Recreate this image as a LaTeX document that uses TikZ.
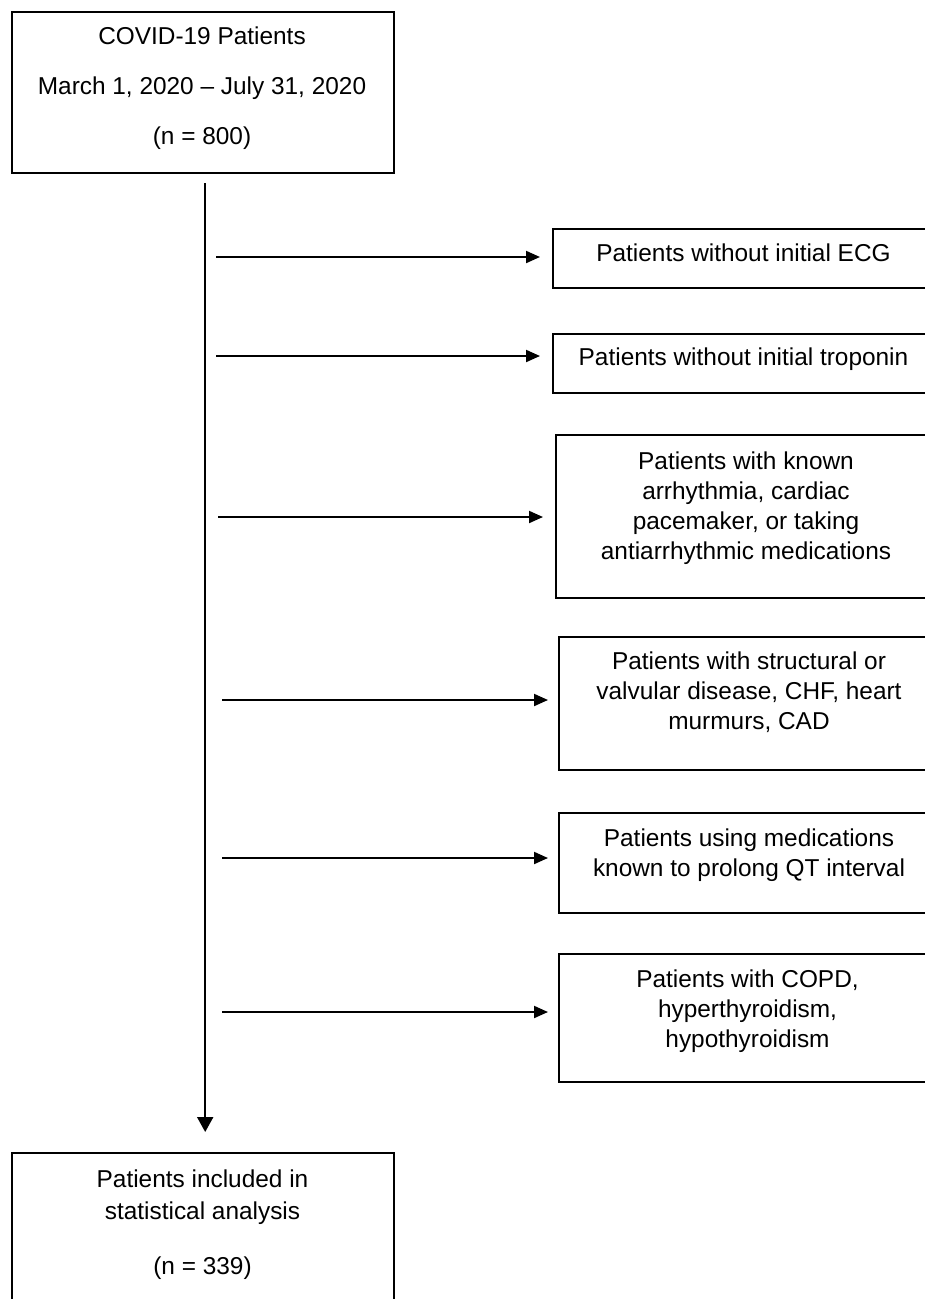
\documentclass[tikz,border=0pt]{standalone}
\usepackage{fontspec}
\setmainfont{Liberation Sans}
\usetikzlibrary{arrows.meta}
\begin{document}
\begin{tikzpicture}[x=1pt,y=-1pt,
  box/.style={draw, line width=2.4pt, anchor=north west, inner sep=0pt, minimum width=383pt},
  txt/.style={align=center, inner sep=0pt},
  fs/.style={font=\fontsize{24.4}{30}\selectfont},
  arr/.style={line width=2pt, -{Triangle[length=14pt,width=12pt]}}]
\useasboundingbox (0,0) rectangle (925,1299);
\fill[white] (0,0) rectangle (925,1299);
\clip (0,0) rectangle (925,1299);

% top and bottom boxes
\node[box, minimum width=382pt, minimum height=161pt] (top) at (11,11) {};
\node[txt, font=\fontsize{24.4}{50}\selectfont] (toptxt) at (202,84) {\strut COVID-19 Patients\\March 1, 2020 -- July 31, 2020\\(n = 800)\strut};
\node[box, minimum width=382pt, minimum height=170pt] (bot) at (11,1152) {};
\node[txt, font=\fontsize{24.4}{32}\selectfont] (bottxt) at (202.5,1225) {\strut Patients included in\\statistical analysis\\[23pt](n = 339)\strut};

% right boxes
\node[box, minimum height=59pt] (b1) at (552,228) {};
\node[txt, fs] (t1) at (743.5,255) {\strut Patients without initial ECG};
\node[box, minimum height=59pt] (b2) at (552,333) {};
\node[txt, fs] (t2) at (743.5,359) {\strut Patients without initial troponin};
\node[box, minimum height=163pt] (b3) at (555,434) {};
\node[txt, fs] (t3) at (746,508) {\strut Patients with known\\arrhythmia, cardiac\\pacemaker, or taking\\antiarrhythmic medications\strut};
\node[box, minimum height=133pt] (b4) at (558,636) {};
\node[txt, fs] (t4) at (749,693) {\strut Patients with structural or\\valvular disease, CHF, heart\\murmurs, CAD\strut};
\node[box, minimum height=100pt] (b5) at (558,812) {};
\node[txt, fs] (t5) at (749,855) {\strut Patients using medications\\known to prolong QT interval\strut};
\node[box, minimum height=128pt] (b6) at (558,953) {};
\node[txt, fs] (t6) at (747.5,1011) {\strut Patients with COPD,\\hyperthyroidism,\\hypothyroidism\strut};

% main vertical arrow
\draw[arr, -{Triangle[length=15pt,width=16pt]}, shorten <=9pt, shorten >=20pt]
  ([xshift=2pt]top.south) -- ([xshift=2pt]bot.north);

% exclusion arrows
\coordinate (s1) at (216,257);
\coordinate (s2) at (216,356);
\coordinate (s3) at (218,517);
\coordinate (s4) at (222,700);
\coordinate (s5) at (222,858);
\coordinate (s6) at (222,1012);
\draw[arr, shorten >=12pt] (s1) -- (s1 -| b1.west);
\draw[arr, shorten >=12pt] (s2) -- (s2 -| b2.west);
\draw[arr, shorten >=12pt] (s3) -- (s3 -| b3.west);
\draw[arr, shorten >=10pt] (s4) -- (s4 -| b4.west);
\draw[arr, shorten >=10pt] (s5) -- (s5 -| b5.west);
\draw[arr, shorten >=10pt] (s6) -- (s6 -| b6.west);
\end{tikzpicture}
\end{document}
